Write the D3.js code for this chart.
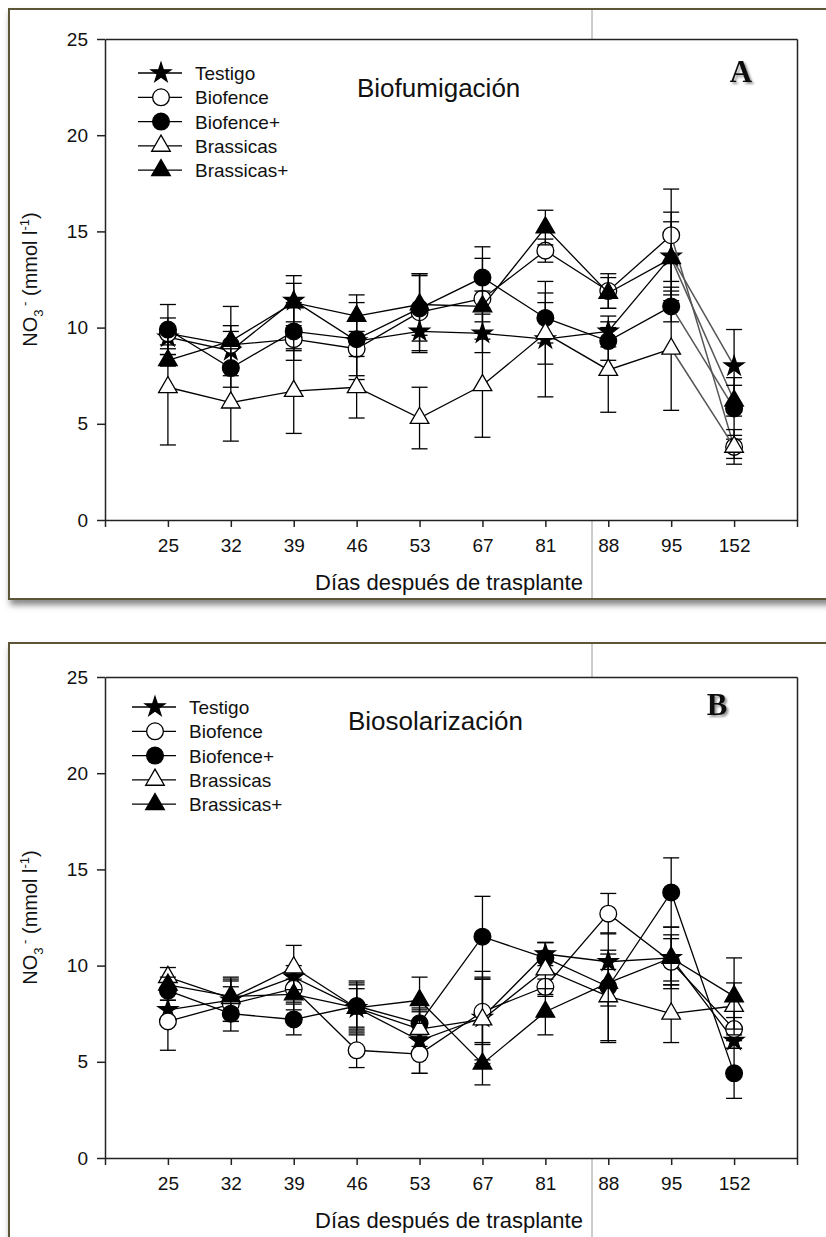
<!DOCTYPE html>
<html>
<head>
<meta charset="utf-8">
<script src="https://cdn.jsdelivr.net/npm/d3@7"></script>
<style>
  body { margin: 0; background: #fff; }
  svg { display: block; }
  text { font-family: "Liberation Sans", Arial, sans-serif; fill: #111; }
</style>
</head>
<body>
<svg id="chart" width="826" height="1237"></svg>
<script>
// categories (days after transplant)
const days = ["25", "32", "39", "46", "53", "67", "81", "88", "95", "152"];
const seriesNames = ["Testigo", "Biofence", "Biofence+", "Brassicas", "Brassicas+"];
const yTicks = [0, 5, 10, 15, 20, 25];

// panel A - Biofumigación (NO3- mmol/l, mean and error)
const testigoA      = [9.5, 8.8, 11.4, 9.3, 9.8, 9.7, 9.4, 9.8, 13.7, 8.0];
const biofenceA     = [9.7, 9.1, 9.4, 8.9, 10.8, 11.5, 14.0, 11.9, 14.8, 3.8];
const biofencePlusA = [9.9, 7.9, 9.8, 9.4, 11.0, 12.6, 10.5, 9.3, 11.1, 5.8];
const brassicasA    = [6.9, 6.1, 6.7, 6.9, 5.3, 7.0, 9.7, 7.8, 8.9, 3.8];
const brassicasPlusA = [8.3, 9.3, 11.3, 10.6, 11.2, 11.1, 15.2, 11.8, 13.6, 6.2];

const testigoAErr      = [0.4, 1.0, 1.3, 0.5, 1.1, 1.0, 3.0, 0.8, 2.3, 1.9];
const biofenceAErr     = [0.8, 1.0, 0.6, 1.6, 2.0, 2.1, 0.6, 0.9, 2.4, 0.6];
const biofencePlusAErr = [1.3, 1.0, 1.5, 1.9, 1.7, 1.6, 1.3, 1.0, 0.8, 1.6];
const brassicasAErr    = [3.0, 2.0, 2.2, 1.6, 1.6, 2.7, 1.6, 2.2, 3.2, 0.9];
const brassicasPlusAErr = [0.3, 1.8, 1.0, 1.1, 1.6, 0.8, 0.9, 0.8, 1.9, 0.8];

// panel B - Biosolarización
const testigoB      = [7.7, 8.2, 9.4, 7.8, 6.1, 7.3, 10.6, 10.2, 10.4, 6.1];
const biofenceB     = [7.1, 8.0, 8.8, 5.6, 5.4, 7.6, 8.9, 12.7, 10.2, 6.7];
const biofencePlusB = [8.7, 7.5, 7.2, 7.9, 7.0, 11.5, 10.4, 8.9, 13.8, 4.4];
const brassicasB    = [9.4, 8.3, 9.9, 7.8, 6.7, 7.2, 9.8, 8.4, 7.5, 7.9];
const brassicasPlusB = [9.0, 8.4, 8.5, 7.8, 8.2, 4.9, 7.6, 9.1, 10.4, 8.4];

const testigoBErr      = [0.5, 1.1, 0.6, 1.4, 1.7, 2.4, 0.6, 0.4, 1.6, 0.4];
const biofenceBErr     = [1.5, 0.9, 0.7, 0.9, 1.0, 1.7, 0.4, 1.05, 1.2, 0.6];
const biofencePlusBErr = [0.5, 0.9, 0.8, 1.2, 0.7, 2.1, 0.8, 2.8, 1.8, 1.3];
const brassicasBErr    = [0.5, 0.9, 1.15, 1.0, 0.9, 2.1, 1.4, 2.4, 1.5, 1.2];
const brassicasPlusBErr = [0.4, 1.0, 0.8, 1.2, 1.2, 1.1, 1.2, 1.2, 1.2, 2.0];

// marker style per series
const markers = [
  { type: d3.symbolStar, size: 120, fill: "#000" },
  { type: d3.symbolCircle, size: 220, fill: "#fff" },
  { type: d3.symbolCircle, size: 220, fill: "#000" },
  { type: d3.symbolTriangle, size: 150, fill: "#fff" },
  { type: d3.symbolTriangle, size: 150, fill: "#000" }
];

const panels = [
  {
    letter: "A", title: "Biofumigación", frameY: 9, frameH: 590,
    top: 39, bottom: 520, titleX: 357, titleY: 97, letterX: 741, letterY: 82,
    legX: 138, legY: 73,
    values: [testigoA, biofenceA, biofencePlusA, brassicasA, brassicasPlusA],
    errors: [testigoAErr, biofenceAErr, biofencePlusAErr, brassicasAErr, brassicasPlusAErr],
    greyLast: true
  },
  {
    letter: "B", title: "Biosolarización", frameY: 643, frameH: 640,
    top: 677, bottom: 1158, titleX: 348, titleY: 730, letterX: 717, letterY: 715,
    legX: 132, legY: 707,
    values: [testigoB, biofenceB, biofencePlusB, brassicasB, brassicasPlusB],
    errors: [testigoBErr, biofenceBErr, biofencePlusBErr, brassicasBErr, brassicasPlusBErr],
    greyLast: false
  }
];

const svg = d3.select("#chart");
const defs = svg.append("defs");
const sh = defs.append("filter").attr("id", "shadow")
  .attr("x", "-5%").attr("y", "-5%").attr("width", "115%").attr("height", "115%");
sh.append("feDropShadow").attr("dx", 2).attr("dy", 5).attr("stdDeviation", 3)
  .attr("flood-color", "#555").attr("flood-opacity", 0.7);
const tsh = defs.append("filter").attr("id", "tshadow");
tsh.append("feDropShadow").attr("dx", 2).attr("dy", 2).attr("stdDeviation", 1.2)
  .attr("flood-color", "#777").attr("flood-opacity", 0.8);

svg.append("rect").attr("width", 826).attr("height", 1237).attr("fill", "#fff");

const x = d3.scaleLinear().domain([0, 11]).range([105, 797]);

panels.forEach(p => {
  const g = svg.append("g");

  // picture frame
  g.append("rect")
    .attr("x", 9).attr("y", p.frameY).attr("width", 840).attr("height", p.frameH)
    .attr("fill", "#fff").attr("stroke", "#5b5439").attr("stroke-width", 2)
    .attr("filter", "url(#shadow)");

  // thin grey guide line that crosses the picture
  g.append("line")
    .attr("x1", 592).attr("x2", 592)
    .attr("y1", p.frameY + 1).attr("y2", p.frameY + p.frameH - 1)
    .attr("stroke", "#9a9a9a").attr("stroke-width", 1);

  const y = d3.scaleLinear().domain([0, 25]).range([p.bottom, p.top]);

  // plot background hides the guide line inside the axes
  g.append("rect")
    .attr("x", x(0)).attr("y", p.top)
    .attr("width", x(11) - x(0)).attr("height", p.bottom - p.top)
    .attr("fill", "#fff");

  const xAxis = d3.axisBottom(x)
    .tickValues(d3.range(12))
    .tickFormat(i => (i >= 1 && i <= 10) ? days[i - 1] : "")
    .tickSize(7).tickSizeOuter(0).tickPadding(12);
  const yAxis = d3.axisLeft(y)
    .tickValues(yTicks).tickSize(8).tickSizeOuter(0).tickPadding(9);

  const ax = g.append("g").attr("transform", `translate(0,${p.bottom})`).call(xAxis);
  const ay = g.append("g").attr("transform", `translate(${x(0)},0)`).call(yAxis);
  g.append("g").attr("transform", `translate(0,${p.top})`)
    .call(d3.axisTop(x).tickValues([]).tickSizeOuter(0));
  g.append("g").attr("transform", `translate(${x(11)},0)`)
    .call(d3.axisRight(y).tickValues([]).tickSizeOuter(0));

  g.selectAll(".domain, .tick line").attr("stroke", "#222").attr("stroke-width", 1.5);
  [ax, ay].forEach(a => a.selectAll("text")
    .style("font-family", '"Liberation Sans", Arial, sans-serif')
    .attr("font-size", 19).attr("fill", "#111"));

  // axis titles
  g.append("text")
    .attr("x", 449).attr("y", p.bottom + 70)
    .attr("text-anchor", "middle").attr("font-size", 22)
    .text("Días después de trasplante");

  const yl = g.append("text")
    .attr("transform", `translate(37,${(p.top + p.bottom) / 2}) rotate(-90)`)
    .attr("text-anchor", "middle").attr("font-size", 20);
  yl.append("tspan").text("NO");
  yl.append("tspan").attr("font-size", 13).attr("dy", 6).text("3");
  yl.append("tspan").attr("font-size", 13).attr("dy", -14).text(" -");
  yl.append("tspan").attr("dy", 8).text(" (mmol l");
  yl.append("tspan").attr("font-size", 13).attr("dy", -8).text("-1");
  yl.append("tspan").attr("dy", 8).text(")");

  // treatment title and panel letter
  g.append("text").attr("x", p.titleX).attr("y", p.titleY)
    .attr("font-size", 26).text(p.title);
  g.append("text").attr("x", p.letterX).attr("y", p.letterY)
    .attr("text-anchor", "middle")
    .style("font-family", '"Liberation Serif", "DejaVu Serif", serif')
    .attr("font-size", 31).attr("font-weight", "bold")
    .attr("filter", "url(#tshadow)").text(p.letter);

  // series: line, error bars, markers
  const line = d3.line().x((d, i) => x(i + 1)).y(d => y(d));
  p.values.forEach((vals, s) => {
    const sg = g.append("g");
    const main = p.greyLast ? vals.slice(0, 9) : vals;
    sg.append("path").datum(main).attr("d", line)
      .attr("fill", "none").attr("stroke", "#000").attr("stroke-width", 1.3);
    if (p.greyLast) {
      sg.append("line")
        .attr("x1", x(9)).attr("y1", y(vals[8]))
        .attr("x2", x(10)).attr("y2", y(vals[9]))
        .attr("stroke", "#555").attr("stroke-width", 1.5);
    }
    const errs = p.errors[s];
    const eb = sg.selectAll(".eb").data(vals).enter().append("g")
      .attr("stroke", "#000").attr("stroke-width", 1.3);
    eb.append("line")
      .attr("x1", (d, i) => x(i + 1)).attr("x2", (d, i) => x(i + 1))
      .attr("y1", (d, i) => y(d - errs[i])).attr("y2", (d, i) => y(d + errs[i]));
    eb.append("line")
      .attr("x1", (d, i) => x(i + 1) - 8).attr("x2", (d, i) => x(i + 1) + 8)
      .attr("y1", (d, i) => y(d + errs[i])).attr("y2", (d, i) => y(d + errs[i]));
    eb.append("line")
      .attr("x1", (d, i) => x(i + 1) - 8).attr("x2", (d, i) => x(i + 1) + 8)
      .attr("y1", (d, i) => y(d - errs[i])).attr("y2", (d, i) => y(d - errs[i]));

    const m = markers[s];
    sg.selectAll(".mk").data(vals).enter().append("path")
      .attr("d", d3.symbol().type(m.type).size(m.size))
      .attr("transform", (d, i) => `translate(${x(i + 1)},${y(d)})`)
      .attr("fill", m.fill).attr("stroke", "#000").attr("stroke-width", 1.3);
  });

  // legend
  seriesNames.forEach((name, s) => {
    const ly = p.legY + s * 24.3;
    const m = markers[s];
    g.append("line").attr("x1", p.legX).attr("x2", p.legX + 44)
      .attr("y1", ly).attr("y2", ly).attr("stroke", "#000").attr("stroke-width", 1.3);
    g.append("path")
      .attr("d", d3.symbol().type(m.type).size(m.size))
      .attr("transform", `translate(${p.legX + 23},${ly})`)
      .attr("fill", m.fill).attr("stroke", "#000").attr("stroke-width", 1.3);
    g.append("text").attr("x", p.legX + 57).attr("y", ly + 7)
      .attr("font-size", 19).text(name);
  });
});
</script>
</body>
</html>
